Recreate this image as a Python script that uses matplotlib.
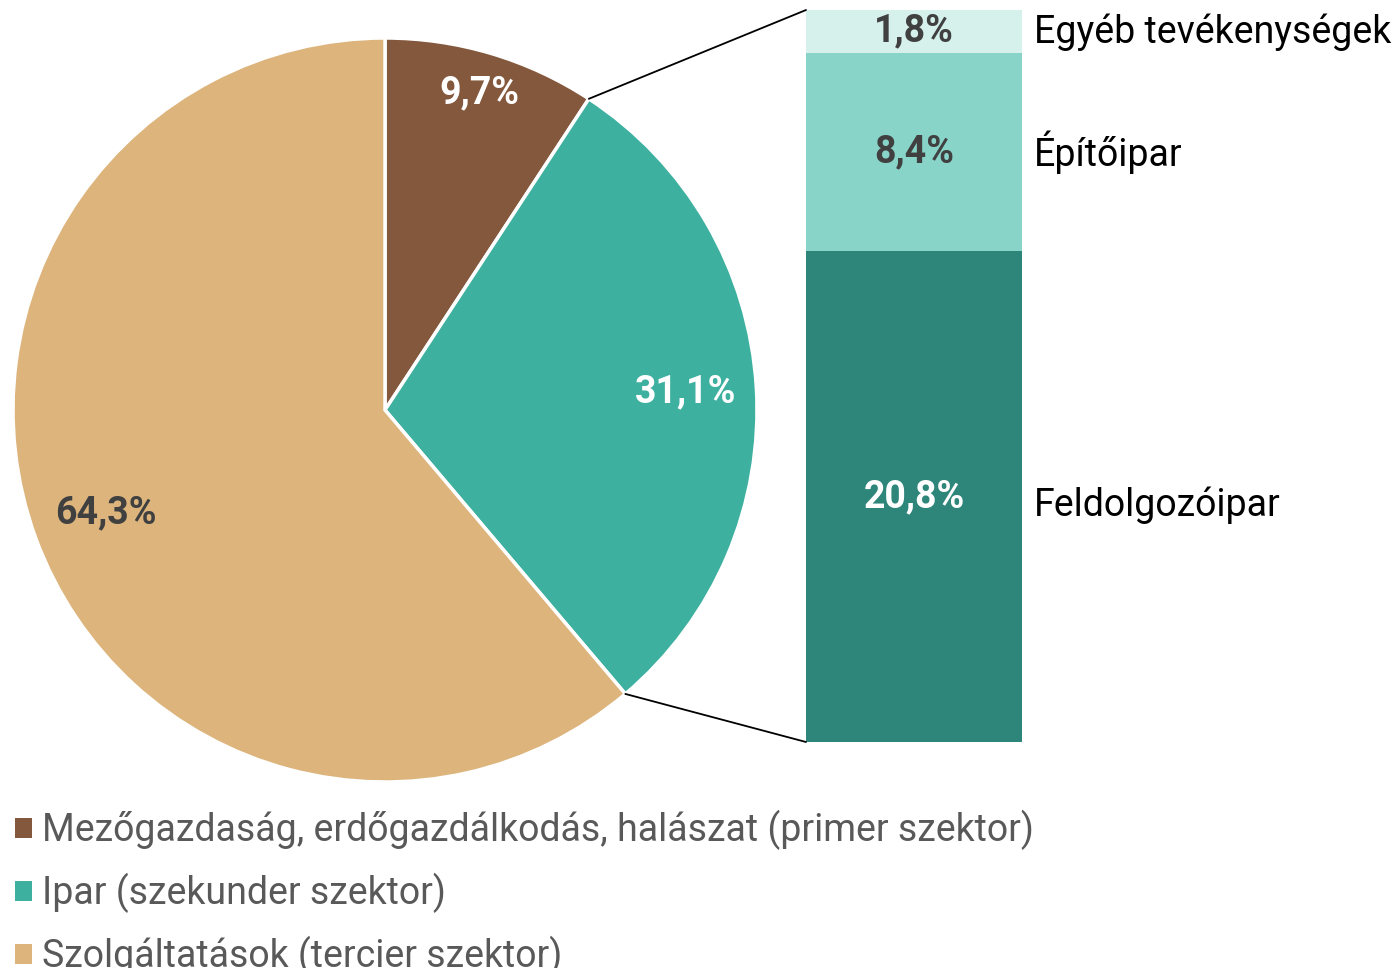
import matplotlib
matplotlib.use("Agg")
import matplotlib.pyplot as plt
from matplotlib.patches import Patch, ConnectionPatch
import numpy as np

plt.rcParams['font.family'] = ['Roboto', 'DejaVu Sans']

# Data
pie_labels = ["Mezőgazdaság, erdőgazdálkodás, halászat (primer szektor)",
              "Ipar (szekunder szektor)",
              "Szolgáltatások (tercier szektor)"]
pie_values = [9.7, 31.1, 64.3]
pie_colors = ["#84583D", "#3DB09F", "#DCB47C"]
pie_text_colors = ["white", "white", "#404040"]
pie_label_dist = [0.89, 0.81, 0.80]

bar_labels = ["Feldolgozóipar", "Építőipar", "Egyéb tevékenységek"]
bar_values = [20.8, 8.4, 1.8]
bar_colors = ["#2E857A", "#88D4C9", "#D6F1EC"]
bar_text_colors = ["white", "#404040", "#404040"]
bar_label_dy_pt = [-6.5, -0.5, -1.0]


def fmt(v):
    return f"{v:.1f}".replace(".", ",") + "%"


W, H = 1395, 968
fig = plt.figure(figsize=(W / 100, H / 100), dpi=100)

# Pie axes: center (385,410) px, radius 372 px
cx, cy, R = 385, 410, 372
ax_pie = fig.add_axes([(cx - R) / W, (H - cy - R) / H, 2 * R / W, 2 * R / H])
wedges, _ = ax_pie.pie(pie_values, colors=pie_colors, startangle=90, counterclock=False,
                       radius=1.0, wedgeprops=dict(edgecolor="white", linewidth=2.5))
ax_pie.set_xlim(-1, 1)
ax_pie.set_ylim(-1, 1)
ax_pie.set_aspect("auto")
ax_pie.axis("off")

for w, v, tc, d in zip(wedges, pie_values, pie_text_colors, pie_label_dist):
    ang = np.deg2rad((w.theta1 + w.theta2) / 2)
    ax_pie.text(d * np.cos(ang), d * np.sin(ang), fmt(v), ha="center", va="center",
                fontsize=27, fontweight="bold", color=tc)

# Bar axes
bx0, bx1, by0, by1 = 806, 1022, 10, 742
ax_bar = fig.add_axes([bx0 / W, (H - by1) / H, (bx1 - bx0) / W, (by1 - by0) / H])
bottom = 0
total = sum(bar_values)
for lab, v, c, tc, dy in zip(bar_labels, bar_values, bar_colors, bar_text_colors, bar_label_dy_pt):
    ax_bar.bar(0, v, bottom=bottom, width=1.0, color=c, edgecolor="none")
    ax_bar.text(0, bottom + v / 2, fmt(v), ha="center", va="center",
                fontsize=27, fontweight="bold", color=tc)
    ax_bar.annotate(lab, xy=(0.555, bottom + v / 2), xytext=(0, dy),
                    textcoords="offset points", ha="left", va="center",
                    fontsize=27, color="black", annotation_clip=False)
    bottom += v
ax_bar.set_xlim(-0.5, 0.5)
ax_bar.set_ylim(0, total)
ax_bar.axis("off")

# Connection lines from teal wedge edges to bar
tw = wedges[1]
for theta, ytarget in [(tw.theta2, total), (tw.theta1, 0)]:
    ang = np.deg2rad(theta)
    con = ConnectionPatch(xyA=(np.cos(ang), np.sin(ang)), coordsA=ax_pie.transData,
                          xyB=(-0.5, ytarget), coordsB=ax_bar.transData,
                          color="black", linewidth=1.3)
    fig.add_artist(con)

# Legend
handles = [Patch(facecolor=c, edgecolor="none") for c in pie_colors]
leg = fig.legend(handles, pie_labels, loc="upper left",
                 bbox_to_anchor=(-11 / W, (H - 784) / H), frameon=False,
                 fontsize=27, handlelength=0.45, handleheight=0.45,
                 handletextpad=0.27, labelspacing=0.6, borderpad=0.2)
for t in leg.get_texts():
    t.set_color("#595959")

fig.savefig("out.png", dpi=100)
